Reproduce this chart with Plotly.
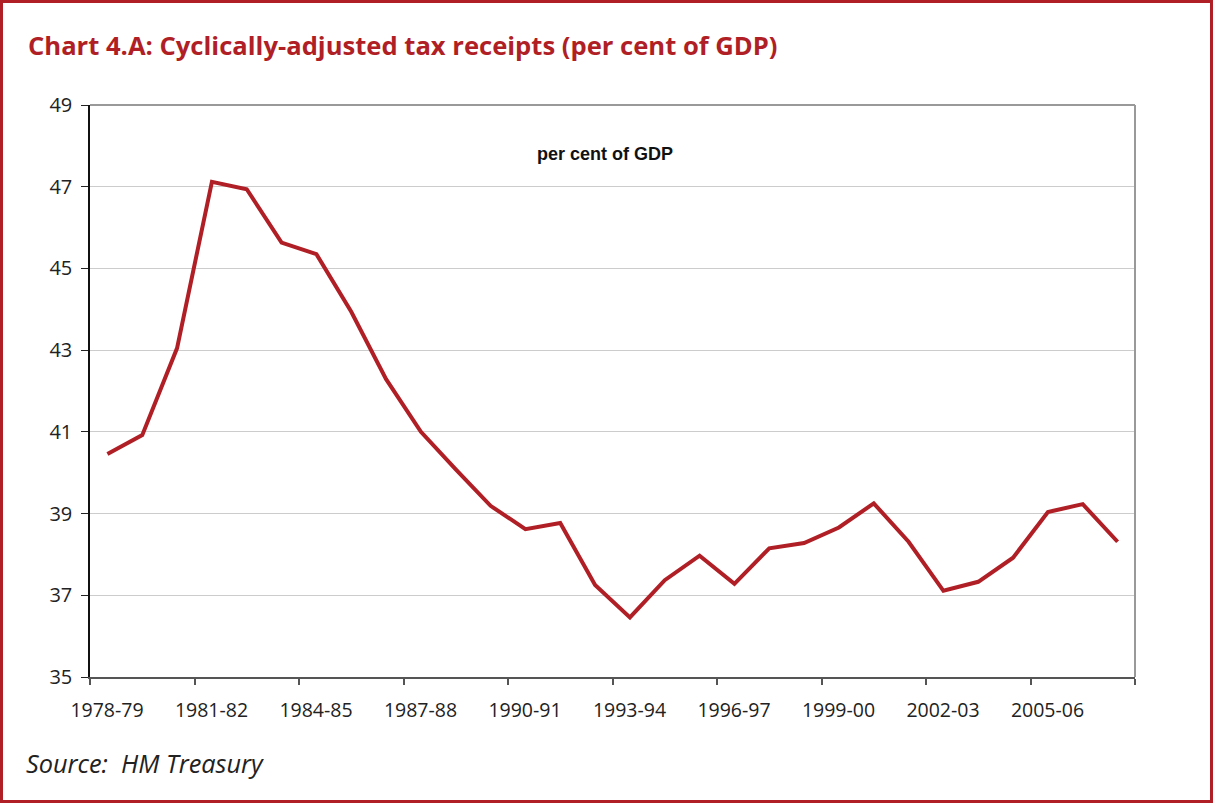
import plotly.graph_objects as go

years = ["1978-79", "1979-80", "1980-81", "1981-82", "1982-83", "1983-84", "1984-85",
         "1985-86", "1986-87", "1987-88", "1988-89", "1989-90", "1990-91", "1991-92",
         "1992-93", "1993-94", "1994-95", "1995-96", "1996-97", "1997-98", "1998-99",
         "1999-00", "2000-01", "2001-02", "2002-03", "2003-04", "2004-05", "2005-06",
         "2006-07", "2007-08"]
receipts = [40.46, 40.92, 43.05, 47.12, 46.94, 45.63, 45.35, 43.94, 42.29, 41.0,
            40.08, 39.19, 38.62, 38.77, 37.25, 36.46, 37.37, 37.97, 37.28, 38.15,
            38.28, 38.66, 39.25, 38.31, 37.11, 37.33, 37.92, 39.04, 39.23, 38.31]
y_ticks = [35, 37, 39, 41, 43, 45, 47, 49]

RED = "#B01F25"
W, H = 1213, 803
L, R, T, B = 90, 78, 105, 126
pw, ph = W - L - R, H - T - B


def px(xp):
    return (xp - L) / pw


def py(yp):
    return (H - B - yp) / ph


n = len(years)
bnd_idx = list(range(0, n + 1, 3))
tickvals = [i - 0.5 for i in bnd_idx]
ticktext = [years[i] if i < n else "" for i in bnd_idx]

fig = go.Figure()
fig.add_trace(go.Scatter(x=years, y=receipts, mode="lines",
                         line=dict(color=RED, width=4), showlegend=False))

fig.update_layout(
    width=W, height=H,
    margin=dict(l=L, r=R, t=T, b=B),
    paper_bgcolor="white", plot_bgcolor="white",
    font=dict(family="Open Sans", color="#222222"),
    xaxis=dict(type="category", range=[-0.5, n - 0.5],
               tickmode="array", tickvals=tickvals, ticktext=ticktext,
               ticklabelshift=int(round(pw / n / 2)), ticklabelstandoff=9,
               ticks="outside", ticklen=6, tickcolor="#555555", tickwidth=1.5,
               showline=True, linecolor="#555555", linewidth=2,
               showgrid=False, zeroline=False,
               tickfont=dict(family="Open Sans", size=19.5, color="#222222")),
    yaxis=dict(range=[35, 49], tickmode="array", tickvals=y_ticks,
               ticks="outside", ticklen=7, tickcolor="#222222", tickwidth=1,
               showline=True, linecolor="#111111", linewidth=1.5,
               showgrid=True, gridcolor="#CCCCCC", gridwidth=1,
               zeroline=False, ticklabelstandoff=5,
               tickfont=dict(family="Open Sans", size=20, color="#222222")),
    shapes=[
        dict(type="line", xref="paper", yref="paper", x0=1, x1=1, y0=0, y1=1,
             line=dict(color="#999999", width=2)),
        dict(type="line", xref="paper", yref="paper", x0=0, x1=1, y0=1, y1=1,
             line=dict(color="#999999", width=2)),
        dict(type="rect", xref="paper", yref="paper",
             x0=px(1.5), x1=px(W - 1.5), y0=py(H - 1.5), y1=py(1.5),
             line=dict(color=RED, width=3)),
    ],
    annotations=[
        dict(text="<b>Chart 4.A: Cyclically-adjusted tax receipts (per cent of GDP)</b>",
             xref="paper", yref="paper", x=px(26), y=py(45),
             xanchor="left", yanchor="middle", showarrow=False,
             font=dict(family="Open Sans", size=25.6, color=RED)),
        dict(text="<b>per cent of GDP</b>", xref="paper", yref="paper",
             x=px(605), y=py(154), xanchor="center", yanchor="middle",
             showarrow=False,
             font=dict(family="Liberation Sans", size=18, color="#111111")),
        dict(text="<i>Source:  HM Treasury</i>", xref="paper", yref="paper",
             x=px(24), y=py(763), xanchor="left", yanchor="middle",
             showarrow=False,
             font=dict(family="Open Sans", size=25.3, color="#222222")),
    ],
)

fig.write_html("out.html")
